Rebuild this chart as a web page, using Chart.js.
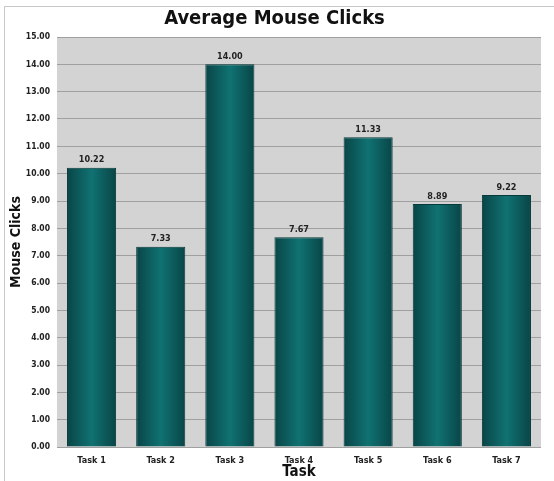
<!DOCTYPE html>
<html>
<head>
<meta charset="utf-8">
<script src="https://cdn.jsdelivr.net/npm/chart.js@4/dist/chart.umd.min.js"></script>
<style>
  html, body { margin: 0; padding: 0; background: #ffffff; }
  #wrap { position: absolute; left: 0; top: 0; width: 554px; height: 481px; }
  #frame { position: absolute; left: 4px; top: 6px; width: 560px; height: 480px; border-left: 1px solid #c8c8c8; border-top: 1px solid #c8c8c8; }
  canvas { position: absolute; left: 0; top: 0; }
</style>
</head>
<body>
<div id="wrap">
  <div id="frame"></div>
  <canvas id="c" width="554" height="481"></canvas>
</div>
<script>
const categories = ["Task 1", "Task 2", "Task 3", "Task 4", "Task 5", "Task 6", "Task 7"];
const clicks = [10.22, 7.33, 14.00, 7.67, 11.33, 8.89, 9.22];
const yTicks = [0, 1, 2, 3, 4, 5, 6, 7, 8, 9, 10, 11, 12, 13, 14, 15];

const FONT = '"DejaVu Sans Condensed", "Liberation Sans Narrow", "Arial Narrow", Arial, sans-serif';
const BAR_PCT = 0.71;

function barGradient(ctx) {
  const chart = ctx.chart;
  const xs = chart.scales && chart.scales.x;
  if (!xs || xs.width === undefined || ctx.dataIndex === undefined) return '#0c6161';
  const cx = xs.getPixelForValue(ctx.dataIndex);
  const w = xs.width / categories.length * BAR_PCT;
  const g = chart.ctx.createLinearGradient(cx - w / 2, 0, cx + w / 2, 0);
  g.addColorStop(0, '#094547');
  g.addColorStop(0.5, '#107272');
  g.addColorStop(1, '#094547');
  return g;
}

const plotBg = {
  id: 'plotBg',
  beforeDraw(chart) {
    const a = chart.chartArea, c = chart.ctx;
    c.save();
    c.fillStyle = '#d3d3d3';
    c.fillRect(a.left, a.top, a.right - a.left, a.bottom - a.top);
    c.restore();
  }
};

const valueLabels = {
  id: 'valueLabels',
  afterDatasetsDraw(chart) {
    const c = chart.ctx;
    const meta = chart.getDatasetMeta(0);
    c.save();
    c.font = 'bold 9px ' + FONT;
    c.fillStyle = '#222222';
    c.textAlign = 'center';
    c.textBaseline = 'bottom';
    meta.data.forEach((el, i) => {
      c.fillText(clicks[i].toFixed(2), el.x, el.y - 3);
    });
    c.restore();
  }
};

new Chart(document.getElementById('c'), {
  type: 'bar',
  data: {
    labels: categories,
    datasets: [{
      data: clicks,
      backgroundColor: barGradient,
      borderColor: '#073a3a',
      borderWidth: 1,
      categoryPercentage: 1,
      barPercentage: BAR_PCT
    }]
  },
  options: {
    responsive: false,
    animation: false,
    layout: { padding: { left: 8, right: 13, top: 0, bottom: 0 } },
    plugins: {
      legend: { display: false },
      tooltip: { enabled: false },
      title: {
        display: true,
        text: 'Average Mouse Clicks',
        color: '#111111',
        font: { family: FONT, size: 20, weight: 'bold' },
        padding: { top: 7, bottom: 6 }
      }
    },
    scales: {
      x: {
        grid: { display: false, drawTicks: false },
        border: { display: false },
        ticks: {
          color: '#222222',
          font: { family: FONT, size: 9, weight: 'bold' },
          padding: 8
        },
        title: {
          display: true,
          text: 'Task',
          color: '#111111',
          font: { family: FONT, size: 15, weight: 'bold' },
          padding: { top: 0, bottom: 0 }
        },
        afterFit(s) { s.height = 34; }
      },
      y: {
        min: 0,
        max: 15,
        afterBuildTicks(s) { s.ticks = yTicks.map(v => ({ value: v })); },
        grid: { color: '#a0a0a0', lineWidth: 1, drawTicks: false },
        border: { display: false },
        ticks: {
          color: '#222222',
          font: { family: FONT, size: 8.5, weight: 'bold' },
          padding: 7,
          callback: v => Number(v).toFixed(2)
        },
        title: {
          display: true,
          text: 'Mouse Clicks',
          color: '#111111',
          font: { family: FONT, size: 14, weight: 'bold' },
          padding: { top: 0, bottom: 4 }
        },
        afterFit(s) { s.width = 49; }
      }
    }
  },
  plugins: [plotBg, valueLabels]
});
</script>
</body>
</html>
